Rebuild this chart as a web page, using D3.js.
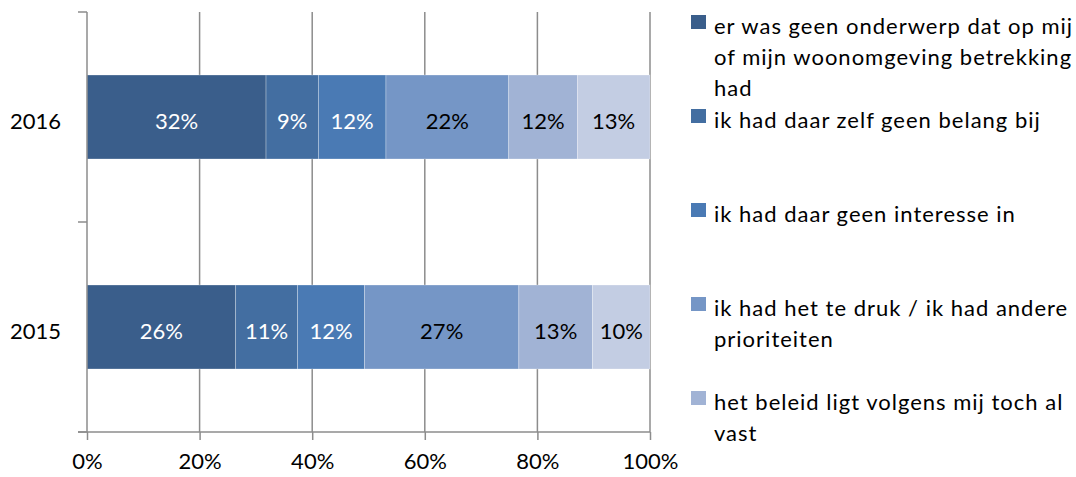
<!DOCTYPE html>
<html>
<head>
<meta charset="utf-8">
<script src="https://cdn.jsdelivr.net/npm/d3@7"></script>
<style>
	body{margin:0;background:#fff;}
	svg{display:block;font-family:Lato,"Open Sans",sans-serif;}
</style>
</head>
<body>
<script>
// categories, top to bottom
const years = ["2016","2015"];
// series (legend order)
const seriesNames = [
	"er was geen onderwerp dat op mij of mijn woonomgeving betrekking had",
	"ik had daar zelf geen belang bij",
	"ik had daar geen interesse in",
	"ik had het te druk / ik had andere prioriteiten",
	"het beleid ligt volgens mij toch al vast",
	"anders"
];
// legend text as it wraps in the picture
const legendLines = [
	["er was geen onderwerp dat op mij","of mijn woonomgeving betrekking","had"],
	["ik had daar zelf geen belang bij"],
	["ik had daar geen interesse in"],
	["ik had het te druk / ik had andere","prioriteiten"],
	["het beleid ligt volgens mij toch al","vast"]
];
const values2016 = [31.8, 9.3, 12.0, 21.8, 12.2, 12.9];
const values2015 = [26.4, 11.0, 11.9, 27.4, 13.1, 10.2];
const xTicks = [0, 20, 40, 60, 80, 100];

const colors = ["#3a5e8b","#436ea1","#4a7ab4","#7596c6","#a1b3d5","#c3cde3"];
const labelColors = ["#fff","#fff","#fff","#000","#000","#000"];

const width = 1076, height = 477;
const margin = {left:87, right:650, top:12, bottom:432};
const fs = 22;

const svg = d3.select("body").append("svg")
	.attr("width", width)
	.attr("height", height);

const x = d3.scaleLinear().domain([0,100]).range([margin.left,margin.right]);
const y = d3.scaleBand().domain(years).range([margin.top,margin.bottom])
	.paddingInner(0.6).paddingOuter(0.3);

// build stack rows
const rows = years.map((yr,i)=>{
	const vals = i===0 ? values2016 : values2015;
	const row = {year:yr};
	seriesNames.forEach((s,j)=>row[s]=vals[j]);
	return row;
});
const stack = d3.stack().keys(seriesNames)(rows);

// gridlines
svg.append("g")
	.selectAll("line")
	.data(xTicks.slice(1))
	.enter().append("line")
	.attr("x1",d=>x(d)).attr("x2",d=>x(d))
	.attr("y1",margin.top).attr("y2",margin.bottom)
	.attr("stroke","#8c8c8c")
	.attr("stroke-width",1.5);

// bars
stack.forEach((layer,j)=>{
	const g = svg.append("g");
	g.selectAll("rect")
		.data(layer)
		.enter().append("rect")
		.attr("x",d=>x(d[0]))
		.attr("y",d=>y(d.data.year))
		.attr("width",d=>x(d[1])-x(d[0]))
		.attr("height",y.bandwidth())
		.attr("fill",colors[j])
		.attr("stroke","#fff")
		.attr("stroke-opacity",0.35)
		.attr("stroke-width",0.8);
	g.selectAll("text")
		.data(layer)
		.enter().append("text")
		.attr("x",d=>(x(d[0])+x(d[1]))/2)
		.attr("y",d=>y(d.data.year)+y.bandwidth()/2)
		.attr("dy","0.55em")
		.attr("text-anchor","middle")
		.attr("font-size",fs)
		.attr("fill",labelColors[j])
		.text(d=>Math.round(d[1]-d[0])+"%");
});

// y axis
const yAxis = svg.append("g")
	.attr("transform","translate("+margin.left+",0)")
	.call(d3.axisLeft(y).tickSize(0).tickPadding(26));
yAxis.select(".domain").remove();
yAxis.selectAll("text").attr("font-size",fs).attr("font-family","Lato").attr("fill","#000").attr("dy","0.55em");
// axis line and boundary ticks (category axis ticks between bands)
const yTickPos = [margin.top, (y(years[0])+y.bandwidth()/2 + y(years[1])+y.bandwidth()/2)/2, margin.bottom];
svg.append("line")
	.attr("x1",margin.left).attr("x2",margin.left).attr("y1",margin.top).attr("y2",margin.bottom)
	.attr("stroke","#8c8c8c").attr("stroke-width",1.5);
svg.append("g").selectAll("line")
	.data(yTickPos)
	.enter().append("line")
	.attr("x1",margin.left-9).attr("x2",margin.left)
	.attr("y1",d=>d).attr("y2",d=>d)
	.attr("stroke","#8c8c8c").attr("stroke-width",1.5);

// x axis
const xAxis = svg.append("g")
	.attr("transform","translate(0,"+margin.bottom+")")
	.call(d3.axisBottom(x).tickValues(xTicks).tickSize(8).tickPadding(13).tickFormat(d=>d+"%"));
xAxis.select(".domain").remove();
xAxis.selectAll("line").attr("stroke","#8c8c8c").attr("stroke-width",1.5);
xAxis.selectAll("text").attr("font-size",fs).attr("font-family","Lato").attr("fill","#000");
svg.append("line")
	.attr("x1",margin.left-9).attr("x2",margin.right).attr("y1",margin.bottom).attr("y2",margin.bottom)
	.attr("stroke","#8c8c8c").attr("stroke-width",1.5);

// legend
const legend = svg.append("g");
const legItems = legend.selectAll("g")
	.data(legendLines)
	.enter().append("g")
	.attr("transform",(d,i)=>"translate(691,"+(22+i*94)+")");
legItems.append("rect")
	.attr("x",0).attr("y",-7)
	.attr("width",15).attr("height",14)
	.attr("fill",(d,i)=>colors[i]);
legItems.each(function(lines){
	const t = d3.select(this).append("text")
		.attr("x",23).attr("y",0)
		.attr("font-size",fs)
		.attr("letter-spacing",1)
		.attr("fill","#000");
	lines.forEach((ln,k)=>{
		t.append("tspan").attr("x",23).attr("y",k*31).attr("dy","0.55em").text(ln);
	});
});
</script>
</body>
</html>
